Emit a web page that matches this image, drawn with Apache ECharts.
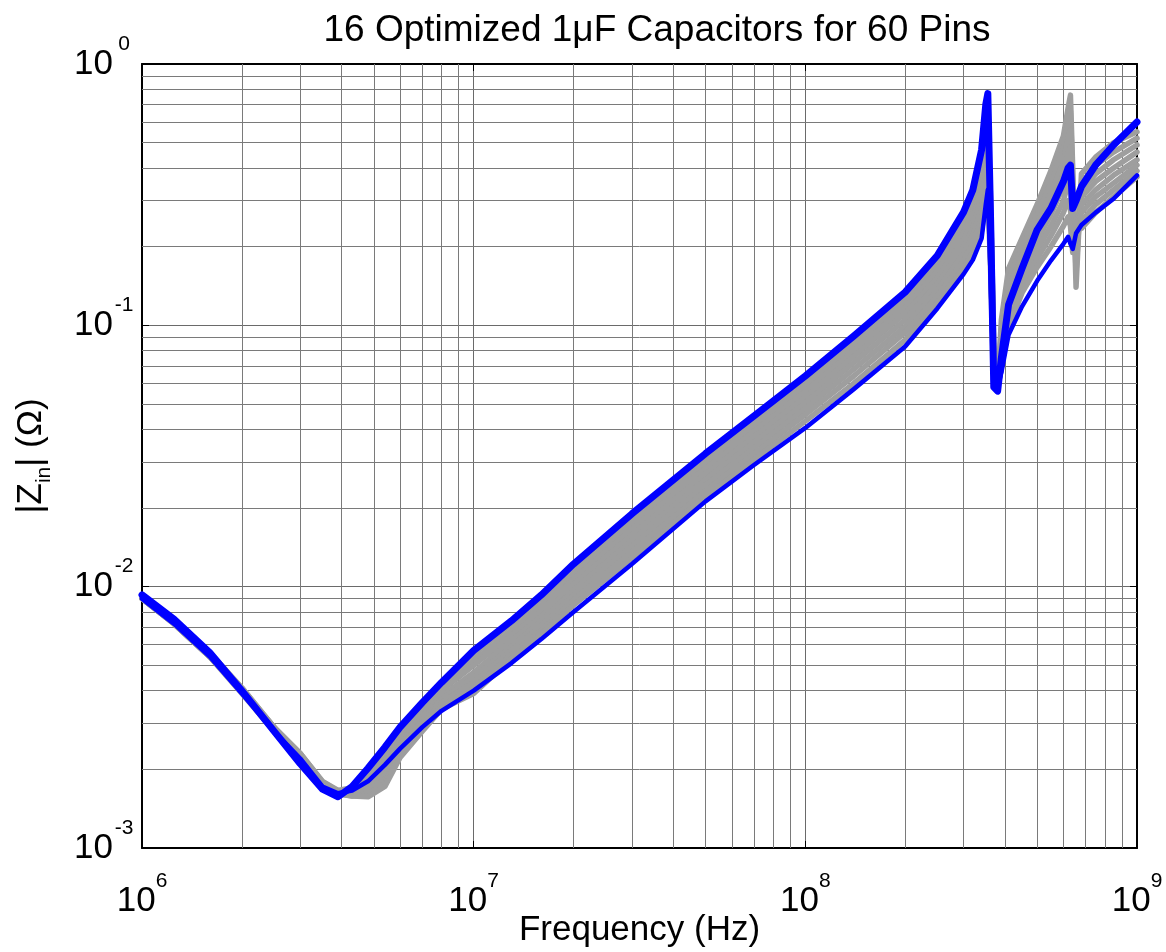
<!DOCTYPE html>
<html>
<head>
<meta charset="utf-8">
<script src="https://cdn.jsdelivr.net/npm/echarts@6/dist/echarts.min.js"></script>
<style>
  html, body { margin: 0; padding: 0; background: #ffffff; }
  #chart { width: 1166px; height: 952px; }
</style>
</head>
<body>
<div id="chart"></div>
<script>
// Frequency sample points shared by every pin curve (Hz)
const FREQ_HZ = [1e6, 1.25e6, 1.6e6, 2e6, 2.5e6, 3e6, 3.5e6, 3.9e6, 4.3e6, 4.8e6, 5.4e6, 6e6, 7e6, 8e6,
  1e7, 1.3e7, 1.6e7, 2e7, 3e7, 5e7, 7e7, 1e8, 1.4e8, 2e8, 2.5e8, 3e8, 3.2e8, 3.4e8, 3.5e8, 3.55e8,
  3.62e8, 3.7e8, 3.8e8, 3.9e8, 4.1e8, 4.5e8, 5e8, 5.5e8, 6e8, 6.2e8, 6.3e8, 6.4e8, 6.55e8, 6.8e8,
  7.5e8, 8.5e8, 1e9];

// |Zin| (ohm) of the worst-case pin (upper envelope)
const PIN_WORST = [0.0093, 0.0075, 0.0056, 0.0040, 0.0028, 0.0021, 0.00168, 0.00157, 0.00172, 0.00202, 0.00243, 0.0029, 0.0036, 0.0043,
  0.0057, 0.0074, 0.0093, 0.0122, 0.0190, 0.0323, 0.0450, 0.0640, 0.091, 0.134, 0.185, 0.271, 0.33, 0.47, 0.70, 0.77,
  0.25, 0.058, 0.056, 0.075, 0.12, 0.165, 0.232, 0.28, 0.355, 0.40, 0.41, 0.28, 0.30, 0.34,
  0.41, 0.49, 0.60];

// |Zin| (ohm) of the best-case pin (lower envelope)
const PIN_BEST = [0.0090, 0.0072, 0.0054, 0.0039, 0.0028, 0.0022, 0.00172, 0.00162, 0.00166, 0.00180, 0.00208, 0.00240, 0.0029, 0.00335,
  0.0040, 0.0051, 0.0063, 0.0080, 0.0122, 0.0212, 0.0292, 0.0405, 0.057, 0.083, 0.116, 0.157, 0.178, 0.215, 0.29, 0.33,
  0.15, 0.058, 0.058, 0.066, 0.092, 0.118, 0.148, 0.177, 0.205, 0.218, 0.205, 0.196, 0.225, 0.242,
  0.270, 0.305, 0.375];

// |Zin| (ohm) of the remaining pins
const PIN_A = [0.0092, 0.0074, 0.0056, 0.0041, 0.0029, 0.0023, 0.00180, 0.00166, 0.00170, 0.00198, 0.00225, 0.00285, 0.0035, 0.0043,
  0.0055, 0.0072, 0.0090, 0.0118, 0.0184, 0.0313, 0.0435, 0.0618, 0.088, 0.130, 0.179, 0.255, 0.31, 0.43, 0.55, 0.60,
  0.30, 0.085, 0.058, 0.105, 0.165, 0.215, 0.29, 0.39, 0.53, 0.68, 0.76, 0.40, 0.14, 0.38,
  0.44, 0.50, 0.55];
const PIN_B = [0.0092, 0.0074, 0.0055, 0.0041, 0.0029, 0.0023, 0.00179, 0.00165, 0.00167, 0.00190, 0.00215, 0.00270, 0.0034, 0.0041,
  0.0052, 0.0068, 0.0085, 0.0112, 0.0175, 0.0298, 0.0413, 0.0587, 0.084, 0.123, 0.170, 0.240, 0.29, 0.40, 0.50, 0.55,
  0.28, 0.080, 0.057, 0.098, 0.150, 0.198, 0.265, 0.35, 0.47, 0.60, 0.66, 0.36, 0.16, 0.35,
  0.41, 0.46, 0.52];
const PIN_C = [0.0091, 0.0073, 0.0055, 0.0040, 0.0029, 0.0022, 0.00178, 0.00164, 0.00164, 0.00183, 0.00205, 0.00258, 0.0033, 0.0040,
  0.0050, 0.0065, 0.0081, 0.0107, 0.0166, 0.0284, 0.0393, 0.0558, 0.080, 0.117, 0.161, 0.226, 0.27, 0.37, 0.46, 0.50,
  0.26, 0.075, 0.057, 0.092, 0.138, 0.185, 0.245, 0.32, 0.42, 0.52, 0.56, 0.32, 0.18, 0.33,
  0.38, 0.43, 0.49];
const PIN_D = [0.0091, 0.0073, 0.0055, 0.0040, 0.0029, 0.0022, 0.00177, 0.00163, 0.00162, 0.00177, 0.00197, 0.00248, 0.0032, 0.0038,
  0.0047, 0.0062, 0.0077, 0.0102, 0.0158, 0.0270, 0.0374, 0.0531, 0.076, 0.111, 0.152, 0.213, 0.25, 0.34, 0.42, 0.46,
  0.24, 0.070, 0.056, 0.087, 0.128, 0.172, 0.225, 0.29, 0.38, 0.46, 0.48, 0.29, 0.20, 0.31,
  0.355, 0.40, 0.46];
const PIN_E = [0.0091, 0.0073, 0.0055, 0.0040, 0.0028, 0.0022, 0.00176, 0.00163, 0.00160, 0.00171, 0.00190, 0.00240, 0.0031, 0.0037,
  0.0045, 0.0059, 0.0074, 0.0097, 0.0150, 0.0257, 0.0356, 0.0505, 0.072, 0.105, 0.144, 0.200, 0.235, 0.31, 0.38, 0.42,
  0.22, 0.068, 0.056, 0.082, 0.120, 0.161, 0.21, 0.265, 0.34, 0.40, 0.40, 0.26, 0.21, 0.29,
  0.33, 0.375, 0.43];
const PIN_F = [0.0090, 0.0072, 0.0054, 0.0040, 0.0028, 0.0022, 0.00175, 0.00162, 0.00159, 0.00166, 0.00183, 0.00234, 0.0030, 0.0036,
  0.0043, 0.0057, 0.0071, 0.0093, 0.0143, 0.0245, 0.0339, 0.0480, 0.068, 0.099, 0.136, 0.188, 0.22, 0.28, 0.35, 0.38,
  0.20, 0.065, 0.056, 0.078, 0.112, 0.150, 0.195, 0.24, 0.30, 0.35, 0.34, 0.23, 0.22, 0.27,
  0.31, 0.35, 0.41];
const PIN_G = [0.0090, 0.0072, 0.0054, 0.0040, 0.0028, 0.0022, 0.00174, 0.00162, 0.00158, 0.00161, 0.00177, 0.00228, 0.0029, 0.0035,
  0.0041, 0.0055, 0.0068, 0.0089, 0.0136, 0.0233, 0.0322, 0.0456, 0.064, 0.094, 0.129, 0.177, 0.205, 0.255, 0.32, 0.35,
  0.18, 0.062, 0.057, 0.073, 0.105, 0.141, 0.18, 0.22, 0.27, 0.30, 0.28, 0.21, 0.225, 0.25,
  0.29, 0.33, 0.39];
const PIN_H = [0.0090, 0.0072, 0.0054, 0.0039, 0.0028, 0.0021, 0.00174, 0.00161, 0.00158, 0.00157, 0.00172, 0.00222, 0.0028, 0.0034,
  0.0039, 0.0053, 0.0066, 0.0085, 0.0129, 0.0222, 0.0306, 0.0430, 0.060, 0.088, 0.122, 0.166, 0.19, 0.23, 0.30, 0.33,
  0.16, 0.060, 0.058, 0.069, 0.098, 0.133, 0.167, 0.20, 0.24, 0.26, 0.24, 0.19, 0.23, 0.235,
  0.27, 0.31, 0.37];

// Axis ranges and log-grid tick values
const X_MIN = 1e6, X_MAX = 1e9;
const Y_MIN = 1e-3, Y_MAX = 1;
const X_DECADES = [1e6, 1e7, 1e8];
const Y_DECADES = [1e-3, 1e-2, 1e-1];
const MINOR_STEPS = [2, 3, 4, 5, 6, 7, 8, 9];

const TITLE = '16 Optimized 1\u03bcF Capacitors for 60 Pins';
const FONT = '"Liberation Sans", Arial, Helvetica, sans-serif';
const BLUE = '#0000ff';
const GRAY = '#9e9e9e';

const GRAY_PINS = [PIN_A, PIN_B, PIN_C, PIN_D, PIN_E, PIN_F, PIN_G, PIN_H];

function toPoints(values) {
  return FREQ_HZ.map((f, i) => [f, values[i]]);
}

// Minor log grid lines (2..9 within each decade)
const minorX = [];
X_DECADES.forEach(d => MINOR_STEPS.forEach(m => minorX.push(d * m)));
const minorY = [];
Y_DECADES.forEach(d => MINOR_STEPS.forEach(m => minorY.push(d * m)));
const gridLineData = []
  .concat(minorX.map(v => ({ coords: [[v, Y_MIN], [v, Y_MAX]] })))
  .concat(minorY.map(v => ({ coords: [[X_MIN, v], [X_MAX, v]] })));

// "10" with the exponent raised as a superscript
function powerLabel(value) {
  const e = Math.round(Math.log10(value));
  return '{b|10}{s|' + e + '}';
}
const richX = {
  b: { fontSize: 35, lineHeight: 48, verticalAlign: 'bottom', fontFamily: FONT, color: '#000' },
  s: { fontSize: 21, lineHeight: 21, verticalAlign: 'top', fontFamily: FONT, color: '#000' }
};
const richY = {
  b: { fontSize: 35, lineHeight: 48, verticalAlign: 'bottom', fontFamily: FONT, color: '#000' },
  s: { fontSize: 21, lineHeight: 21, verticalAlign: 'top', width: 22, align: 'left', fontFamily: FONT, color: '#000' }
};

const boxLine = { show: true, onZero: false, lineStyle: { color: '#000', width: 2 } };
const innerTick = { show: true, inside: true, length: 7, lineStyle: { color: '#000', width: 1 } };
const majorGrid = { show: true, lineStyle: { color: '#6a6a6a', width: 1 } };

const series = [{
  type: 'lines',
  coordinateSystem: 'cartesian2d',
  silent: true,
  z: 1,
  lineStyle: { color: '#7a7a7a', width: 1, opacity: 1 },
  data: gridLineData
}];

GRAY_PINS.forEach((vals, k) => {
  series.push({
    name: 'pin ' + (k + 1),
    type: 'line',
    data: toPoints(vals),
    showSymbol: false,
    symbol: 'none',
    z: 3,
    lineStyle: { color: GRAY, width: 5.5, join: 'round', cap: 'round' }
  });
});
series.push({
  name: 'best pin', type: 'line', data: toPoints(PIN_BEST), showSymbol: false, symbol: 'none', z: 4,
  lineStyle: { color: BLUE, width: 4.5, join: 'round', cap: 'round' }
});
series.push({
  name: 'worst pin', type: 'line', data: toPoints(PIN_WORST), showSymbol: false, symbol: 'none', z: 5,
  lineStyle: { color: BLUE, width: 7, join: 'round', cap: 'round' }
});

const chart = echarts.init(document.getElementById('chart'), null, { renderer: 'canvas' });
chart.setOption({
  animation: false,
  backgroundColor: '#ffffff',
  title: {
    text: TITLE,
    left: 652,
    top: 7,
    textAlign: 'center',
    textStyle: { fontFamily: FONT, fontSize: 37, fontWeight: 'normal', color: '#000' }
  },
  grid: { left: 142, right: 29, top: 64, bottom: 104, containLabel: false, outerBoundsMode: 'none' },
  xAxis: [{
    type: 'log', logBase: 10, min: X_MIN, max: X_MAX, position: 'bottom',
    name: 'Frequency (Hz)', nameLocation: 'middle', nameGap: 65, nameMoveOverlap: false,
    nameTextStyle: { fontFamily: FONT, fontSize: 35, color: '#000' },
    axisLine: boxLine, axisTick: innerTick, splitLine: majorGrid,
    axisLabel: { margin: 23, formatter: powerLabel, rich: richX }
  }, {
    type: 'log', logBase: 10, min: X_MIN, max: X_MAX, position: 'top',
    axisLine: boxLine, axisTick: innerTick, splitLine: { show: false }, axisLabel: { show: false }
  }],
  yAxis: [{
    type: 'log', logBase: 10, min: Y_MIN, max: Y_MAX, position: 'left',
    name: '|Z{sub|in}| (\u03a9)', nameLocation: 'middle', nameRotate: 90, nameGap: 93, nameMoveOverlap: false,
    nameTextStyle: {
      fontFamily: FONT, fontSize: 35, color: '#000',
      rich: {
        sub: { fontSize: 21, lineHeight: 21, verticalAlign: 'top', padding: [20, 0, 0, 0], fontFamily: FONT, color: '#000' }
      }
    },
    axisLine: boxLine, axisTick: innerTick, splitLine: majorGrid,
    axisLabel: { margin: 7, padding: [0, 0, 13, 0], formatter: powerLabel, rich: richY }
  }, {
    type: 'log', logBase: 10, min: Y_MIN, max: Y_MAX, position: 'right',
    axisLine: boxLine, axisTick: innerTick, splitLine: { show: false }, axisLabel: { show: false }
  }],
  series: series
});
</script>
</body>
</html>
